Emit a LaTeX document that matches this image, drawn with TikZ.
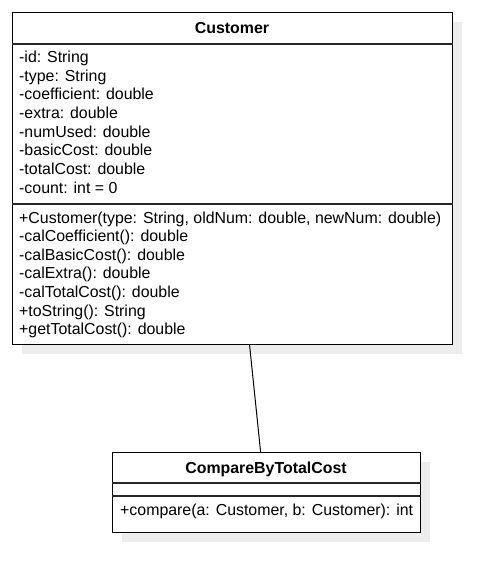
\documentclass[tikz,border=0pt]{standalone}
\usepackage{fontspec}
\setmainfont{Liberation Sans}
\usetikzlibrary{shadows}
\begin{document}
\begin{tikzpicture}[x=1pt,y=-1pt,
  classbox/.style={draw=black, line width=1.2pt, fill=white, anchor=north west, inner sep=0pt,
    drop shadow={shadow xshift=9pt, shadow yshift=-9pt, fill=black!7, opacity=1}},
  divider/.style={draw=black!85, line width=1.1pt},
  txt/.style={anchor=base west, inner sep=0pt, font=\fontsize{15.9}{18}\selectfont},
  ttl/.style={anchor=base, inner sep=0pt, font=\fontsize{15.9}{18}\selectfont\bfseries},
  assoc/.style={draw=black, line width=1pt}]
\useasboundingbox (0,0) rectangle (502,582);
% Customer
\node[classbox, minimum width=440pt, minimum height=332pt] (cust) at (12,12) {};
\draw[divider] (cust.north west |- 0,44) -- (cust.north east |- 0,44);
\draw[divider] (cust.north west |- 0,204) -- (cust.north east |- 0,204);
\node[ttl] (custT) at (232,33.5) {Customer};
\foreach \t [count=\i from 0] in {-id: String,-type: String,-coefficient: double,-extra: double,-numUsed: double,-basicCost: double,-totalCost: double,-count: int = 0}
  \node[txt] (a\i) at (19,{62.5+18.65*\i}) {\t};
\foreach \t [count=\i from 0] in {{+Customer(type: String, oldNum: double, newNum: double)},-calCoefficient(): double,-calBasicCost(): double,-calExtra(): double,-calTotalCost(): double,+toString(): String,+getTotalCost(): double}
  \node[txt] (m\i) at (19,{223+18.6*\i}) {\t};
% CompareByTotalCost
\node[classbox, minimum width=308pt, minimum height=80pt] (cmp) at (112,452) {};
\draw[divider] (cmp.north west |- 0,483) -- (cmp.north east |- 0,483);
\draw[divider] (cmp.north west |- 0,496) -- (cmp.north east |- 0,496);
\node[ttl] (cmpT) at (266,473.5) {CompareByTotalCost};
\node[txt] (cm0) at (120,515) {+compare(a: Customer, b: Customer): int};
% association
\draw[assoc] ([xshift=17pt]cust.south) -- ([xshift=-6pt]cmp.north);
\end{tikzpicture}
\end{document}
